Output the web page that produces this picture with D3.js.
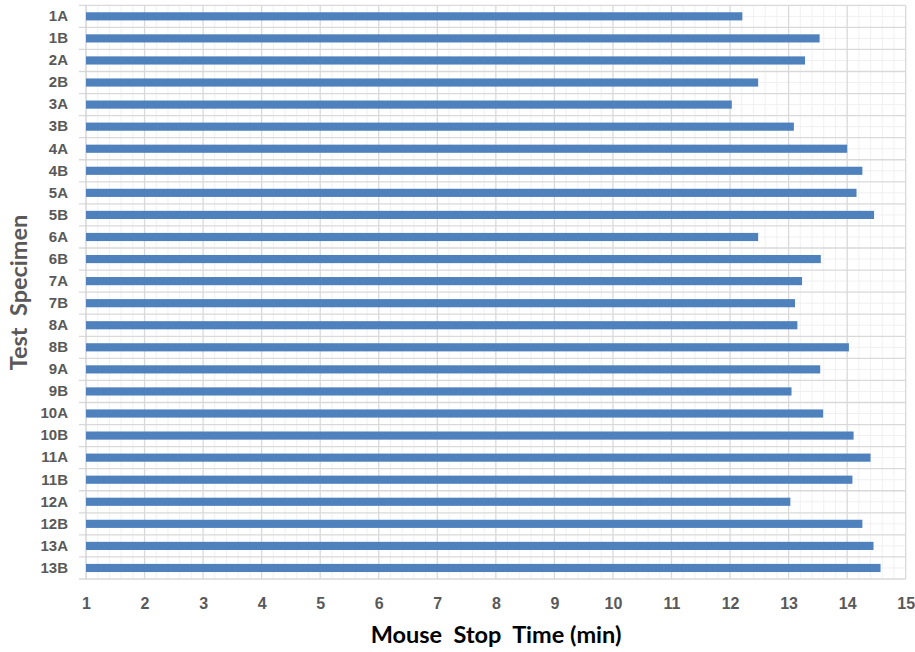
<!DOCTYPE html>
<html>
<head>
<meta charset="utf-8">
<script src="https://d3js.org/d3.v7.min.js"></script>
<style>
  html, body { margin: 0; padding: 0; background: #ffffff; }
  svg { display: block; font-family: "Lato", "Liberation Sans", sans-serif; }
</style>
</head>
<body>
<svg id="chart" width="915" height="652"></svg>
<script>
// Test specimens, top to bottom
const specimens = ["1A","1B","2A","2B","3A","3B","4A","4B","5A","5B","6A","6B","7A",
                   "7B","8A","8B","9A","9B","10A","10B","11A","11B","12A","12B","13A","13B"];
// Mouse stop time per specimen (min)
const stopTimes = [12.21, 13.53, 13.28, 12.48, 12.03, 13.09, 14.00, 14.26, 14.16, 14.46, 12.48, 13.55, 13.23,
                   13.11, 13.15, 14.03, 13.54, 13.05, 13.59, 14.11, 14.40, 14.09, 13.03, 14.26, 14.45, 14.57];
// Value axis ticks
const xTicks = [1,2,3,4,5,6,7,8,9,10,11,12,13,14,15];
const xMinorStep = 0.2;

const data = specimens.map((s, i) => ({ name: s, value: stopTimes[i] }));

const svg = d3.select("#chart");
const plotLeft = 86, plotRight = 905.7, plotTop = 5.3, plotBottom = 579;

const x = d3.scaleLinear().domain([xTicks[0], xTicks[xTicks.length - 1]]).range([plotLeft, plotRight]);
const y = d3.scaleBand().domain(specimens).range([plotTop, plotBottom]);

const grid = svg.append("g");

// minor vertical gridlines
const minorX = d3.range(xTicks[0], xTicks[xTicks.length - 1] + 1e-9, xMinorStep)
  .filter(v => Math.abs(v - Math.round(v)) > 1e-6);
grid.selectAll("line.mvx").data(minorX).join("line")
  .attr("x1", d => x(d)).attr("x2", d => x(d))
  .attr("y1", plotTop).attr("y2", plotBottom)
  .attr("stroke", "#f0f0f0").attr("stroke-width", 1);

// minor horizontal gridlines through band centres
grid.selectAll("line.mhy").data(specimens).join("line")
  .attr("x1", plotLeft).attr("x2", plotRight)
  .attr("y1", d => y(d) + y.bandwidth() / 2).attr("y2", d => y(d) + y.bandwidth() / 2)
  .attr("stroke", "#f0f0f0").attr("stroke-width", 1);

// major vertical gridlines
grid.selectAll("line.vx").data(xTicks.slice(1)).join("line")
  .attr("x1", d => x(d)).attr("x2", d => x(d))
  .attr("y1", plotTop).attr("y2", plotBottom)
  .attr("stroke", "#d9d9d9").attr("stroke-width", 1.3);

// major horizontal gridlines at band boundaries (with tick marks to the left)
const boundaries = specimens.map(s => y(s)).concat([plotBottom]);
grid.selectAll("line.hy").data(boundaries).join("line")
  .attr("x1", plotLeft - 7).attr("x2", plotRight)
  .attr("y1", d => d).attr("y2", d => d)
  .attr("stroke", "#d9d9d9").attr("stroke-width", 1.3);

// value axis line on the left
grid.append("line")
  .attr("x1", plotLeft).attr("x2", plotLeft).attr("y1", plotTop).attr("y2", plotBottom)
  .attr("stroke", "#d0d0d0").attr("stroke-width", 1.3);

// bars
const barH = y.bandwidth() * 0.37;
svg.append("g").selectAll("rect").data(data).join("rect")
  .attr("x", x(xTicks[0]))
  .attr("y", d => y(d.name) + (y.bandwidth() - barH) / 2)
  .attr("width", d => x(d.value) - x(xTicks[0]))
  .attr("height", barH)
  .attr("fill", "#4f81bd");

// category labels
const yAxis = svg.append("g").attr("transform", `translate(${plotLeft},0)`)
  .call(d3.axisLeft(y).tickSize(0).tickPadding(18));
yAxis.select(".domain").remove();
yAxis.selectAll("text")
  .attr("fill", "#595959").style("font-size", "15px").style("font-weight", "bold");

// value labels
const xAxis = svg.append("g").attr("transform", `translate(0,${plotBottom})`)
  .call(d3.axisBottom(x).tickValues(xTicks).tickFormat(d3.format("d")).tickSize(0).tickPadding(19));
xAxis.select(".domain").remove();
xAxis.selectAll("text")
  .attr("fill", "#595959").style("font-size", "16px").style("font-weight", "bold");

// axis titles
svg.append("text")
  .attr("x", 496).attr("y", 643)
  .attr("text-anchor", "middle")
  .style("white-space", "pre")
  .style("font-size", "23.5px").style("font-weight", "bold")
  .attr("fill", "#000000")
  .text("Mouse  Stop  Time (min)");

svg.append("text")
  .attr("transform", "translate(27,292.5) rotate(-90)")
  .attr("text-anchor", "middle")
  .style("white-space", "pre")
  .style("font-size", "23.5px").style("font-weight", "bold")
  .attr("fill", "#595959")
  .text("Test  Specimen");
</script>
</body>
</html>
